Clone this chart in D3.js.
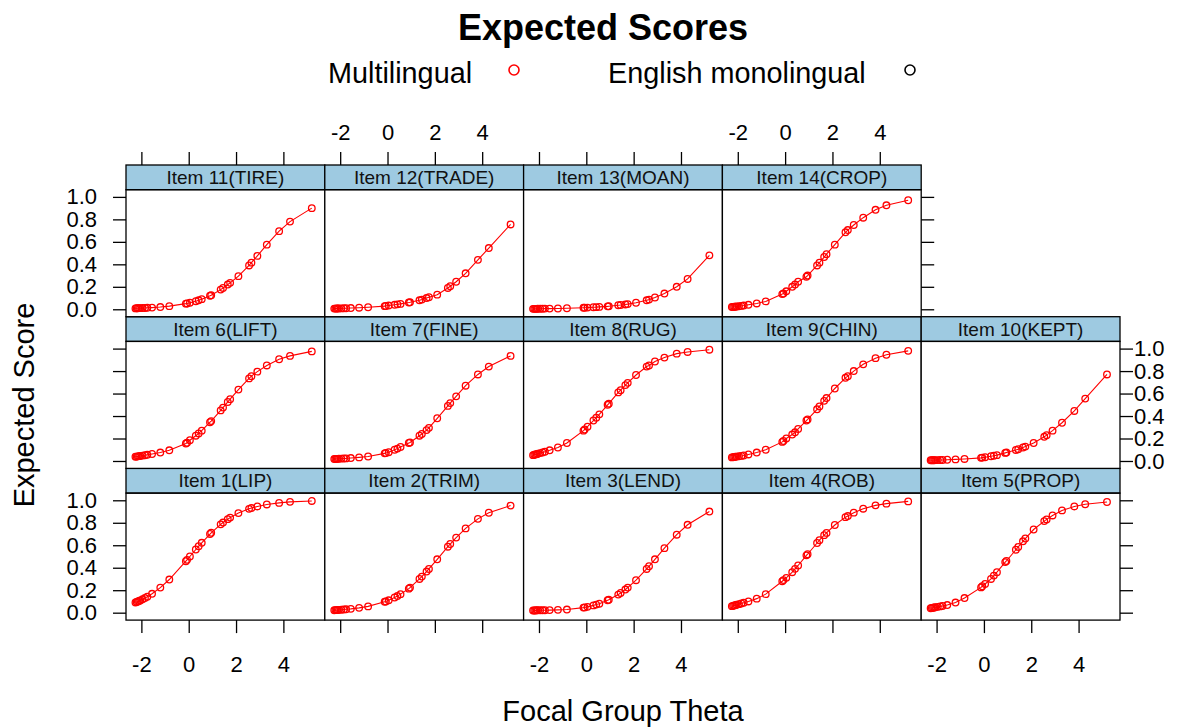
<!DOCTYPE html>
<html>
<head>
<meta charset="utf-8">
<script src="https://cdn.jsdelivr.net/npm/d3@7"></script>
<style>
  body { margin: 0; background: #ffffff; }
  svg { display: block; font-family: "Liberation Sans", Arial, sans-serif; }
</style>
</head>
<body>
<script>
// Focal group theta values (shared by every item panel)
const theta = [-2.25, -2.2, -2.15, -2.1, -2.05, -1.95, -1.85, -1.75, -1.55, -1.2, -0.82,
               -0.12, -0.07, 0.05, 0.3, 0.42, 0.55, 0.9, 0.95, 1.35, 1.45, 1.65, 1.75,
               2.1, 2.55, 2.65, 2.9, 3.3, 3.82, 4.28, 5.2];

const itemLabels = ["Item 1(LIP)", "Item 2(TRIM)", "Item 3(LEND)", "Item 4(ROB)", "Item 5(PROP)",
                    "Item 6(LIFT)", "Item 7(FINE)", "Item 8(RUG)", "Item 9(CHIN)", "Item 10(KEPT)",
                    "Item 11(TIRE)", "Item 12(TRADE)", "Item 13(MOAN)", "Item 14(CROP)"];

// Expected item scores for the multilingual group, one array per item
const item1  = [0.091, 0.095, 0.10, 0.104, 0.109, 0.119, 0.13, 0.142, 0.168, 0.223, 0.295,
                0.458, 0.47, 0.50, 0.562, 0.591, 0.622, 0.70, 0.711, 0.786, 0.802, 0.832, 0.846,
                0.886, 0.924, 0.931, 0.945, 0.963, 0.977, 0.986, 0.994];
const item2  = [0.022, 0.023, 0.023, 0.024, 0.025, 0.026, 0.028, 0.03, 0.034, 0.043, 0.056,
                0.097, 0.10, 0.11, 0.135, 0.148, 0.165, 0.214, 0.223, 0.30, 0.321, 0.366, 0.389,
                0.475, 0.587, 0.611, 0.668, 0.75, 0.835, 0.889, 0.953];
const item3  = [0.02, 0.02, 0.02, 0.021, 0.021, 0.021, 0.022, 0.022, 0.023, 0.025, 0.028,
                0.045, 0.047, 0.052, 0.065, 0.072, 0.08, 0.11, 0.115, 0.161, 0.175, 0.206, 0.223,
                0.289, 0.389, 0.413, 0.475, 0.574, 0.694, 0.782, 0.90];
const item4  = [0.058, 0.061, 0.064, 0.067, 0.07, 0.076, 0.082, 0.089, 0.10, 0.125, 0.165,
                0.28, 0.29, 0.31, 0.36, 0.39, 0.42, 0.51, 0.52, 0.62, 0.645, 0.69, 0.71,
                0.78, 0.85, 0.86, 0.89, 0.925, 0.955, 0.97, 0.99];
const item5  = [0.04, 0.042, 0.044, 0.046, 0.048, 0.052, 0.056, 0.06, 0.068, 0.09, 0.13,
                0.225, 0.235, 0.255, 0.30, 0.33, 0.36, 0.45, 0.46, 0.56, 0.585, 0.635, 0.66,
                0.74, 0.815, 0.83, 0.865, 0.91, 0.945, 0.965, 0.985];
const item6  = [0.038, 0.039, 0.041, 0.043, 0.045, 0.048, 0.051, 0.055, 0.062, 0.075, 0.095,
                0.155, 0.162, 0.185, 0.225, 0.245, 0.27, 0.345, 0.355, 0.45, 0.475, 0.525, 0.55,
                0.635, 0.735, 0.755, 0.795, 0.85, 0.905, 0.935, 0.975];
const item7  = [0.017, 0.018, 0.019, 0.019, 0.02, 0.021, 0.022, 0.023, 0.026, 0.032, 0.04,
                0.068, 0.071, 0.078, 0.10, 0.11, 0.125, 0.16, 0.165, 0.225, 0.24, 0.275, 0.295,
                0.38, 0.49, 0.515, 0.575, 0.67, 0.77, 0.84, 0.935];
const item8  = [0.052, 0.055, 0.058, 0.061, 0.064, 0.07, 0.076, 0.082, 0.095, 0.12, 0.16,
                0.27, 0.28, 0.305, 0.36, 0.385, 0.415, 0.50, 0.51, 0.61, 0.63, 0.675, 0.695,
                0.765, 0.84, 0.85, 0.885, 0.92, 0.955, 0.97, 0.99];
const item9  = [0.032, 0.034, 0.035, 0.037, 0.039, 0.042, 0.045, 0.049, 0.058, 0.075, 0.10,
                0.17, 0.178, 0.20, 0.235, 0.255, 0.285, 0.36, 0.37, 0.46, 0.485, 0.535, 0.56,
                0.645, 0.74, 0.755, 0.80, 0.86, 0.915, 0.945, 0.98];
const item10 = [0.006, 0.006, 0.007, 0.007, 0.008, 0.008, 0.009, 0.009, 0.011, 0.014, 0.018,
                0.028, 0.03, 0.033, 0.042, 0.047, 0.052, 0.072, 0.075, 0.098, 0.105, 0.12, 0.128,
                0.16, 0.215, 0.23, 0.27, 0.34, 0.445, 0.555, 0.77];
const item11 = [0.008, 0.009, 0.009, 0.01, 0.01, 0.011, 0.012, 0.013, 0.015, 0.02, 0.028,
                0.05, 0.052, 0.058, 0.072, 0.08, 0.09, 0.12, 0.125, 0.175, 0.19, 0.22, 0.235,
                0.295, 0.39, 0.415, 0.475, 0.575, 0.695, 0.78, 0.90];
const item12 = [0.006, 0.006, 0.007, 0.007, 0.008, 0.008, 0.009, 0.009, 0.011, 0.014, 0.018,
                0.028, 0.03, 0.033, 0.04, 0.044, 0.048, 0.06, 0.062, 0.08, 0.086, 0.10, 0.107,
                0.13, 0.19, 0.205, 0.245, 0.32, 0.44, 0.545, 0.755];
const item13 = [0.004, 0.004, 0.004, 0.004, 0.005, 0.005, 0.005, 0.006, 0.006, 0.007, 0.009,
                0.013, 0.013, 0.015, 0.018, 0.019, 0.021, 0.026, 0.027, 0.036, 0.038, 0.043, 0.046,
                0.058, 0.08, 0.086, 0.105, 0.14, 0.20, 0.27, 0.48];
const item14 = [0.02, 0.021, 0.022, 0.023, 0.025, 0.027, 0.03, 0.033, 0.04, 0.052, 0.07,
                0.135, 0.14, 0.16, 0.20, 0.22, 0.245, 0.29, 0.30, 0.39, 0.415, 0.465, 0.49,
                0.575, 0.685, 0.705, 0.75, 0.815, 0.885, 0.925, 0.97];

const itemScores = [item1, item2, item3, item4, item5, item6, item7,
                    item8, item9, item10, item11, item12, item13, item14];

const xTicks = [-2, 0, 2, 4];
const yTicks = [0, 0.2, 0.4, 0.6, 0.8, 1.0];
const groupLabels = ["Multilingual", "English monolingual"];
const groupColors = ["#ff0000", "#000000"];

// ---- layout ----
const W = 1188, H = 728;
const gridLeft = 126, colW = 198.8, nCols = 5;
const gridTop = 165, rowH = 151.7, nRows = 3;
const stripH = 24.7, panelH = rowH - stripH;
const gridBottom = gridTop + nRows * rowH;
const tickLen = 13;

const svg = d3.select("body").append("svg")
  .attr("width", W).attr("height", H);

const x = d3.scaleLinear().domain([-2.65, 5.75]).range([0, colW]);
const y = d3.scaleLinear().domain([-0.066, 1.064]).range([panelH, 0]);

// panel placement: items 1-5 bottom row, 6-10 middle row, 11-14 top row
const panels = itemScores.map((vals, i) => ({
  label: itemLabels[i],
  vals,
  col: i % nCols,
  row: nRows - 1 - Math.floor(i / nCols)
}));

const line = d3.line().x((d, i) => x(theta[i])).y(d => y(d));

const pg = svg.selectAll("g.panel").data(panels).enter().append("g")
  .attr("class", "panel")
  .attr("transform", d => `translate(${gridLeft + d.col * colW},${gridTop + d.row * rowH})`);

pg.append("rect")
  .attr("x", 0).attr("y", stripH).attr("width", colW).attr("height", panelH)
  .attr("fill", "#ffffff");

const plot = pg.append("g").attr("transform", `translate(0,${stripH})`);
plot.append("path")
  .attr("d", d => line(d.vals))
  .attr("fill", "none").attr("stroke", groupColors[0]).attr("stroke-width", 1.1);
plot.selectAll("circle").data(d => d.vals).enter().append("circle")
  .attr("cx", (d, i) => x(theta[i])).attr("cy", d => y(d))
  .attr("r", 3.3)
  .attr("fill", "none").attr("stroke", groupColors[0]).attr("stroke-width", 1.3);

// strips
pg.append("rect")
  .attr("x", 0).attr("y", 0).attr("width", colW).attr("height", stripH)
  .attr("fill", "#9ecae1").attr("stroke", "#000").attr("stroke-width", 1.3);
pg.append("text")
  .attr("x", colW / 2).attr("y", stripH / 2 + 6.5)
  .attr("text-anchor", "middle").attr("font-size", 19).attr("fill", "#111")
  .text(d => d.label);

// panel borders
pg.append("rect")
  .attr("x", 0).attr("y", stripH).attr("width", colW).attr("height", panelH)
  .attr("fill", "none").attr("stroke", "#000").attr("stroke-width", 1.3);

// ---- axes ----
function styleAxis(g) {
  g.select(".domain").remove();
  g.selectAll(".tick line").attr("stroke", "#000").attr("stroke-width", 1.3);
  g.selectAll(".tick text").attr("fill", "#000").attr("font-size", 22)
    .attr("font-family", "'Liberation Sans', Arial, sans-serif");
}
const fmtY = d3.format(".1f");
const fmtX = d => d3.format("d")(d).replace("\u2212", "-");

// left axes: every row, labels on top and bottom rows
for (let r = 0; r < nRows; r++) {
  const labelled = (r !== 1);
  svg.append("g")
    .attr("transform", `translate(${gridLeft},${gridTop + r * rowH + stripH})`)
    .call(d3.axisLeft(y).tickValues(yTicks).tickSize(tickLen).tickPadding(16)
      .tickFormat(labelled ? fmtY : () => ""))
    .call(styleAxis);
}
// right axes: top row ends after 4 panels; labels on middle row
for (let r = 0; r < nRows; r++) {
  const cols = panels.filter(p => p.row === r).length;
  const labelled = (r === 1);
  svg.append("g")
    .attr("transform", `translate(${gridLeft + cols * colW},${gridTop + r * rowH + stripH})`)
    .call(d3.axisRight(y).tickValues(yTicks).tickSize(tickLen).tickPadding(1)
      .tickFormat(labelled ? fmtY : () => ""))
    .call(styleAxis);
}
// bottom axes under every column, labels on columns 1, 3, 5
for (let c = 0; c < nCols; c++) {
  svg.append("g")
    .attr("transform", `translate(${gridLeft + c * colW},${gridBottom})`)
    .call(d3.axisBottom(x).tickValues(xTicks).tickSize(tickLen).tickPadding(23)
      .tickFormat(c % 2 === 0 ? fmtX : () => ""))
    .call(styleAxis);
}
// top axes over the top-row panels, labels on columns 2 and 4
const topCols = panels.filter(p => p.row === 0).length;
for (let c = 0; c < topCols; c++) {
  svg.append("g")
    .attr("transform", `translate(${gridLeft + c * colW},${gridTop})`)
    .call(d3.axisTop(x).tickValues(xTicks).tickSize(tickLen).tickPadding(12)
      .tickFormat(c % 2 === 1 ? fmtX : () => ""))
    .call(styleAxis);
}

// ---- titles ----
svg.append("text")
  .attr("x", 603).attr("y", 40)
  .attr("text-anchor", "middle").attr("font-size", 36).attr("font-weight", "bold")
  .text("Expected Scores");

svg.append("text")
  .attr("x", 623).attr("y", 721)
  .attr("text-anchor", "middle").attr("font-size", 29)
  .text("Focal Group Theta");

svg.append("text")
  .attr("transform", "translate(34,405) rotate(-90)")
  .attr("text-anchor", "middle").attr("font-size", 29)
  .text("Expected Score");

// ---- legend ----
const legendItems = [
  { label: groupLabels[0], color: groupColors[0], tx: 328, cx: 514 },
  { label: groupLabels[1], color: groupColors[1], tx: 608, cx: 910 }
];
const lg = svg.selectAll("g.legend").data(legendItems).enter().append("g").attr("class", "legend");
lg.append("text")
  .attr("x", d => d.tx).attr("y", 83)
  .attr("font-size", 28.8).attr("fill", "#000")
  .text(d => d.label);
lg.append("circle")
  .attr("cx", d => d.cx).attr("cy", 70).attr("r", 5)
  .attr("fill", "none").attr("stroke", d => d.color).attr("stroke-width", 1.6);
</script>
</body>
</html>
